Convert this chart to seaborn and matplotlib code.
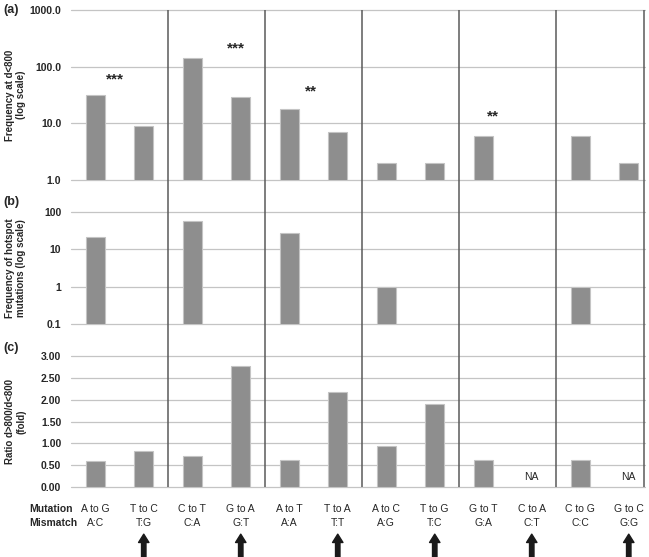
import numpy as np
import pandas as pd
import matplotlib
matplotlib.use("Agg")
import matplotlib.pyplot as plt
from matplotlib.ticker import NullLocator
import seaborn as sns

# data
mutations = ["A to G", "T to C", "C to T", "G to A", "A to T", "T to A",
             "A to C", "T to G", "G to T", "C to A", "C to G", "G to C"]
mismatches = ["A:C", "T:G", "C:A", "G:T", "A:A", "T:T",
              "A:G", "T:C", "G:A", "C:T", "C:C", "G:G"]
freq_close = [32, 9, 140, 29, 18, 7, 2, 2, 6, np.nan, 6, 2]
freq_hotspot = [22, np.nan, 58, np.nan, 28, np.nan, 1, np.nan, np.nan, np.nan, 1, np.nan]
ratio_fold = [0.59, 0.83, 0.72, 2.76, 0.62, 2.17, 0.94, 1.90, 0.62, np.nan, 0.62, np.nan]
arrow_idx = [1, 3, 5, 7, 9, 11]
na_idx = [9, 11]
stars = [("***", 0.4, 60), ("***", 2.9, 210), ("**", 4.45, 36), ("**", 8.2, 13.4)]

sns.set_theme(style="white")
plt.rcParams["font.family"] = ["Liberation Sans", "DejaVu Sans"]

df = pd.DataFrame({"mutation": mutations, "mismatch": mismatches,
                   "close": freq_close, "hotspot": freq_hotspot, "ratio": ratio_fold})

W, H = 649, 557
fig = plt.figure(figsize=(W / 100, H / 100), dpi=100)

left = 71 / W
width = 574 / W
xmax = 11.5 - 8 / 48.5


def make_ax(top_px, bot_px):
    ax = fig.add_axes([left, 1 - bot_px / H, width, (bot_px - top_px) / H])
    ax.set_facecolor("none")
    return ax


bar_kw = dict(order=mutations, color="#8e8e8e", edgecolor="#c4c4c4",
              linewidth=0.8, width=0.39, errorbar=None, saturation=1)

ax_a = make_ax(10, 180)
ax_b = make_ax(212, 324)
ax_c = make_ax(356, 487)

sns.barplot(data=df, x="mutation", y="close", ax=ax_a, **bar_kw)
sns.barplot(data=df, x="mutation", y="hotspot", ax=ax_b, **bar_kw)
sns.barplot(data=df, x="mutation", y="ratio", ax=ax_c, **bar_kw)

ax_a.set_yscale("log")
ax_a.set_ylim(1, 1000)
ax_a.set_yticks([1, 10, 100, 1000])
ax_a.set_yticklabels(["1.0", "10.0", "100.0", "1000.0"])

ax_b.set_yscale("log")
ax_b.set_ylim(0.1, 100)
ax_b.set_yticks([0.1, 1, 10, 100])
ax_b.set_yticklabels(["0.1", "1", "10", "100"])

ax_c.set_ylim(0, 3)
ax_c.set_yticks(np.arange(0, 3.01, 0.5))
ax_c.set_yticklabels([f"{v:.2f}" for v in np.arange(0, 3.01, 0.5)])

ylabels = ["Frequency at d<800\n(log scale)",
           "Frequency of hotspot\nmutations (log scale)",
           "Ratio d>800/d<800\n(fold)"]

for ax, lab in zip([ax_a, ax_b, ax_c], ylabels):
    ax.set_xlim(-0.5, xmax)
    ax.yaxis.set_minor_locator(NullLocator())
    ax.grid(axis="y", color="#c4c4c4", linewidth=0.9)
    for gl in ax.get_ygridlines():
        gl.set_clip_on(False)
    ax.set_axisbelow(True)
    for s in ax.spines.values():
        s.set_visible(False)
    ax.tick_params(axis="y", length=0, pad=7, labelsize=7.5)
    for t in ax.get_yticklabels():
        t.set_fontweight("bold")
    ax.set_ylabel(lab, fontsize=7, fontweight="bold", linespacing=1.1)
    ax.yaxis.set_label_coords(-0.078, 0.5)
    ax.set_xlabel("")

for ax in [ax_a, ax_b]:
    ax.set_xticks([])

ax_c.set_xticks(range(len(mutations)))
ax_c.set_xticklabels([f"{m}\n{mm}" for m, mm in zip(mutations, mismatches)],
                     fontsize=7.5, linespacing=1.55)
ax_c.tick_params(axis="x", length=0, pad=12)

# significance stars
for s, xi, yi in stars:
    ax_a.text(xi, yi, s, ha="center", va="center", fontsize=11, fontweight="bold")

# NA labels
for i in na_idx:
    ax_c.text(i, 0.24, "NA", ha="center", va="center", fontsize=7.5)

# arrows under the second member of each pair
tr = ax_c.get_xaxis_transform()
for i in arrow_idx:
    ax_c.annotate("", xy=(i, -0.36), xytext=(i, -0.56), xycoords=tr, textcoords=tr,
                  annotation_clip=False,
                  arrowprops=dict(arrowstyle="simple,head_length=0.6,head_width=0.75,tail_width=0.32",
                                  mutation_scale=10, color="#1a1a1a", shrinkA=0, shrinkB=0))

# group separator lines spanning all three panels
ax_sep = fig.add_axes([left, 1 - 487 / H, width, 477 / H])
ax_sep.set_xlim(-0.5, xmax)
ax_sep.set_ylim(0, 1)
ax_sep.axis("off")
for xb in [1.5, 3.5, 5.5, 7.5, 9.5, xmax - 0.02]:
    ax_sep.axvline(xb, color="#5a5a5a", linewidth=1.1)

fig.text(29 / W, 1 - 509 / H, "Mutation", fontsize=7.5, fontweight="bold", va="center")
fig.text(29 / W, 1 - 523 / H, "Mismatch", fontsize=7.5, fontweight="bold", va="center")

for lab, ypx in [("a", 10), ("b", 202), ("c", 348)]:
    fig.text(3 / W, 1 - ypx / H, f"({lab})", fontsize=9, fontweight="bold", va="center")

fig.savefig("out.png", dpi=100)
